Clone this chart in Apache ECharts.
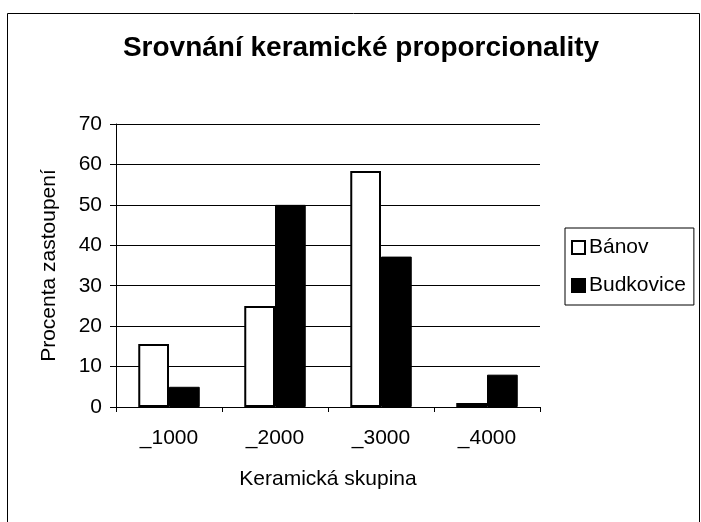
<!DOCTYPE html>
<html>
<head>
<meta charset="utf-8">
<script src="https://cdn.jsdelivr.net/npm/echarts@6/dist/echarts.min.js"></script>
<style>
  html, body { margin: 0; padding: 0; background: #fff; }
  #chart { width: 701px; height: 522px; }
</style>
</head>
<body>
<div id="chart"></div>
<script>
// data
const categories = ['_1000', '_2000', '_3000', '_4000'];
const banov = [15.6, 25, 58.4, 1];
const budkovice = [5, 50, 37.2, 8];
const yTicks = [0, 10, 20, 30, 40, 50, 60, 70];

const font = 'Arial, "Liberation Sans", sans-serif';

const chart = echarts.init(document.getElementById('chart'), null, { renderer: 'canvas' });

const option = {
  backgroundColor: '#fff',
  animation: false,
  title: {
    text: 'Srovnání keramické proporcionality',
    left: 356,
    textAlign: 'center',
    top: 29,
    textStyle: { fontFamily: font, fontSize: 28, fontWeight: 'bold', color: '#000' }
  },
  legend: {
    orient: 'vertical',
    left: 565,
    top: 228,
    padding: [9, 8, 9, 6],
    itemGap: 17,
    itemWidth: 13,
    itemHeight: 13,
    icon: 'rect',
    borderColor: '#000',
    borderWidth: 1,
    textStyle: { fontFamily: font, fontSize: 21, color: '#000', padding: [0, 0, 0, -1] },
    data: ['Bánov', 'Budkovice']
  },
  graphic: [{
    type: 'rect',
    shape: { x: 7.5, y: 13.5, width: 692, height: 530 },
    style: { fill: 'none', stroke: '#000', lineWidth: 1 },
    silent: true
  }],
  grid: { left: 116, right: 161, top: 124, bottom: 115 },
  xAxis: {
    type: 'category',
    data: categories,
    name: 'Keramická skupina',
    nameLocation: 'middle',
    nameGap: 62,
    nameTextStyle: { fontFamily: font, fontSize: 21, color: '#000' },
    axisLine: { lineStyle: { color: '#000', width: 1 } },
    axisTick: { show: true, length: 5, lineStyle: { color: '#000' } },
    axisLabel: { fontFamily: font, fontSize: 21, color: '#000', margin: 21 }
  },
  yAxis: {
    type: 'value',
    min: 0,
    max: 70,
    interval: 10,
    name: 'Procenta zastoupení',
    nameLocation: 'middle',
    nameGap: 56,
    nameTextStyle: { fontFamily: font, fontSize: 21, color: '#000' },
    axisLine: { show: true, lineStyle: { color: '#000', width: 1 } },
    axisTick: { show: true, length: 6, lineStyle: { color: '#000' } },
    axisLabel: {
      fontFamily: font, fontSize: 21, color: '#000', margin: 14,
      formatter: v => (yTicks.indexOf(v) >= 0 ? String(v) : '')
    },
    splitLine: { show: true, lineStyle: { color: '#000', width: 1 } }
  },
  series: [{
    name: 'Bánov',
    type: 'bar',
    data: banov,
    barGap: '0%',
    barCategoryGap: '42%',
    itemStyle: { color: '#fff', borderColor: '#000', borderWidth: 2 }
  }, {
    name: 'Budkovice',
    type: 'bar',
    data: budkovice,
    barGap: '0%',
    barCategoryGap: '42%',
    itemStyle: { color: '#000', borderColor: '#000', borderWidth: 1 }
  }]
};

chart.setOption(option);
</script>
</body>
</html>
